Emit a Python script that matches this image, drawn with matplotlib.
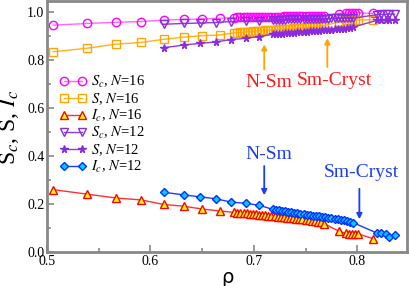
import matplotlib
matplotlib.use("Agg")
import matplotlib.pyplot as plt

plt.rcParams['font.family'] = ['Liberation Serif', 'DejaVu Serif']
plt.rcParams['mathtext.fontset'] = 'stix'

# densities, N=16
rho16 = [0.506, 0.539, 0.567, 0.591, 0.613, 0.632, 0.650, 0.667,
         0.681, 0.684, 0.687, 0.690, 0.693, 0.696, 0.699, 0.702, 0.705, 0.708,
         0.711, 0.714, 0.717, 0.720, 0.723, 0.726, 0.729, 0.732, 0.735, 0.738,
         0.741, 0.744, 0.747, 0.750, 0.753, 0.756, 0.759, 0.762, 0.765, 0.768,
         0.782, 0.789, 0.792, 0.795, 0.798, 0.801, 0.815]
sc16 = [0.946, 0.953, 0.958, 0.961, 0.967, 0.970, 0.972, 0.975,
        0.977, 0.978, 0.978, 0.979, 0.979, 0.979, 0.980, 0.980, 0.980, 0.981,
        0.981, 0.981, 0.982, 0.982, 0.982, 0.982, 0.983, 0.983, 0.983, 0.983,
        0.984, 0.984, 0.984, 0.984, 0.985, 0.985, 0.985, 0.985, 0.986, 0.986,
        0.994, 0.997, 0.997, 0.997, 0.997, 0.997, 0.995]
s16 = [0.835, 0.850, 0.867, 0.874, 0.887, 0.896, 0.902, 0.905,
       0.914, 0.915, 0.916, 0.917, 0.918, 0.919, 0.920, 0.921, 0.922, 0.923,
       0.924, 0.925, 0.926, 0.927, 0.928, 0.929, 0.930, 0.931, 0.932, 0.933,
       0.934, 0.935, 0.936, 0.937, 0.938, 0.939, 0.940, 0.941, 0.943, 0.945,
       0.958, 0.966, 0.967, 0.967, 0.967, 0.968, 0.968]
ic16 = [0.260, 0.241, 0.225, 0.217, 0.198, 0.191, 0.179, 0.171,
        0.165, 0.164, 0.163, 0.162, 0.161, 0.159, 0.158, 0.157, 0.156, 0.155,
        0.153, 0.152, 0.150, 0.149, 0.147, 0.146, 0.145, 0.143, 0.142, 0.140,
        0.139, 0.137, 0.136, 0.134, 0.132, 0.131, 0.129, 0.127, 0.124, 0.118,
        0.087, 0.078, 0.077, 0.076, 0.076, 0.075, 0.056]

# densities, N=12
rho12 = [0.613, 0.632, 0.648, 0.663, 0.678, 0.692, 0.705,
         0.718, 0.721, 0.724, 0.727, 0.730, 0.733, 0.736, 0.739, 0.742, 0.745,
         0.748, 0.751, 0.754, 0.757, 0.760, 0.763, 0.766, 0.769, 0.772, 0.775,
         0.778, 0.781, 0.784, 0.787, 0.790, 0.793, 0.796,
         0.819, 0.823, 0.828, 0.831, 0.836]
sc12 = [0.950, 0.953, 0.955, 0.957, 0.961, 0.962, 0.963,
        0.968, 0.968, 0.969, 0.969, 0.969, 0.970, 0.970, 0.970, 0.971, 0.971,
        0.971, 0.972, 0.972, 0.972, 0.972, 0.973, 0.973, 0.973, 0.973, 0.974,
        0.974, 0.974, 0.974, 0.975, 0.975, 0.975, 0.975,
        0.990, 0.991, 0.991, 0.992, 0.992]
s12 = [0.852, 0.863, 0.870, 0.876, 0.886, 0.891, 0.898,
       0.908, 0.909, 0.910, 0.911, 0.912, 0.913, 0.914, 0.915, 0.916, 0.917,
       0.918, 0.919, 0.920, 0.921, 0.922, 0.923, 0.924, 0.925, 0.926, 0.927,
       0.928, 0.929, 0.930, 0.932, 0.934, 0.936, 0.938,
       0.966, 0.967, 0.967, 0.968, 0.968]
ic12 = [0.249, 0.238, 0.230, 0.222, 0.208, 0.203, 0.195,
        0.178, 0.176, 0.174, 0.172, 0.170, 0.168, 0.166, 0.164, 0.162, 0.160,
        0.158, 0.156, 0.154, 0.152, 0.150, 0.148, 0.146, 0.144, 0.142, 0.140,
        0.138, 0.136, 0.134, 0.132, 0.130, 0.126, 0.122,
        0.079, 0.079, 0.075, 0.063, 0.070]

fig = plt.figure(figsize=(4.09, 2.86), dpi=100)
ax = fig.add_axes([0.115, 0.119, 0.88, 0.876])

ms = 6
ax.plot(rho16, sc16, '-o', color='#ff66ff', mec='#ff00ff', mfc='none', ms=ms, lw=1,
        label=r'$S_c$, $N$=16')
ax.plot(rho16, s16, '-s', color='#ffb31a', mec='#ffa500', mfc='none', ms=ms - 0.5, lw=1,
        label=r'$S$, $N$=16')
ax.plot(rho16, ic16, '-^', color='#ff3030', mec='#ff0000', mfc='#ffff00', ms=ms, lw=1,
        mew=1, label=r'$I_c$, $N$=16')
ax.plot(rho12, sc12, '-v', color='#8a3be2', mec='#8a2be2', mfc='none', ms=ms, lw=1,
        label=r'$S_c$, $N$=12')
ax.plot(rho12, s12, '-*', color='#8a3be2', mec='#8a2be2', mfc='#8a2be2', ms=ms - 0.5, lw=1,
        label=r'$S$, $N$=12')
ax.plot(rho12, ic12, '-D', color='#1a3cff', mec='#0030ff', mfc='#00ccff', ms=ms - 1.5, lw=1,
        label=r'$I_c$, $N$=12')

# transitions
ax.annotate('', xy=(0.710, 0.878), xytext=(0.710, 0.75),
            arrowprops=dict(arrowstyle='-|>', color='#ffa500', lw=1.3, mutation_scale=8))
ax.text(0.714, 0.705, 'N-Sm', color='#ff1a1a', fontsize=14, ha='center', va='center')
ax.annotate('', xy=(0.771, 0.903), xytext=(0.771, 0.76),
            arrowprops=dict(arrowstyle='-|>', color='#ffa500', lw=1.3, mutation_scale=8))
ax.text(0.778, 0.715, 'Sm-Cryst', color='#ff1a1a', fontsize=14, ha='center', va='center')

ax.annotate('', xy=(0.710, 0.225), xytext=(0.710, 0.37),
            arrowprops=dict(arrowstyle='-|>', color='#1a3cff', lw=1.3, mutation_scale=8))
ax.text(0.714, 0.405, 'N-Sm', color='#1a3cff', fontsize=14, ha='center', va='center')
ax.annotate('', xy=(0.802, 0.125), xytext=(0.802, 0.275),
            arrowprops=dict(arrowstyle='-|>', color='#1a3cff', lw=1.3, mutation_scale=8))
ax.text(0.804, 0.33, 'Sm-Cryst', color='#1a3cff', fontsize=14, ha='center', va='center')

ax.set_xlim(0.5, 0.848)
ax.set_ylim(0.0, 1.045)
ax.set_xticks([0.5, 0.6, 0.7, 0.8])
ax.set_xticks([0.55, 0.65, 0.75], minor=True)
ax.set_yticks([0.0, 0.2, 0.4, 0.6, 0.8, 1.0])
ax.set_yticks([0.1, 0.3, 0.5, 0.7, 0.9], minor=True)
ax.set_xticklabels(['0.5', '0.6', '0.7', '0.8'])
ax.set_yticklabels(['0.0', '0.2', '0.4', '0.6', '0.8', '1.0'])
ax.tick_params(which='both', direction='in', color='#888888', width=1.2, labelsize=10, pad=2)
ax.tick_params(which='major', length=5)
ax.tick_params(which='minor', length=3)
for sp in ax.spines.values():
    sp.set_color('#888888')
    sp.set_linewidth(2)

ax.set_xlabel('ρ', fontsize=14, family='DejaVu Sans', labelpad=0)
ax.set_ylabel(r'S$_c$, S, $I_c$', fontsize=17, labelpad=4)

ax.legend(loc='upper left', bbox_to_anchor=(0.02, 0.735), frameon=False, fontsize=10.5,
          numpoints=2, handlelength=1.8, handletextpad=0.3, labelspacing=0.08,
          borderaxespad=0)

fig.savefig('out.png', dpi=100)
